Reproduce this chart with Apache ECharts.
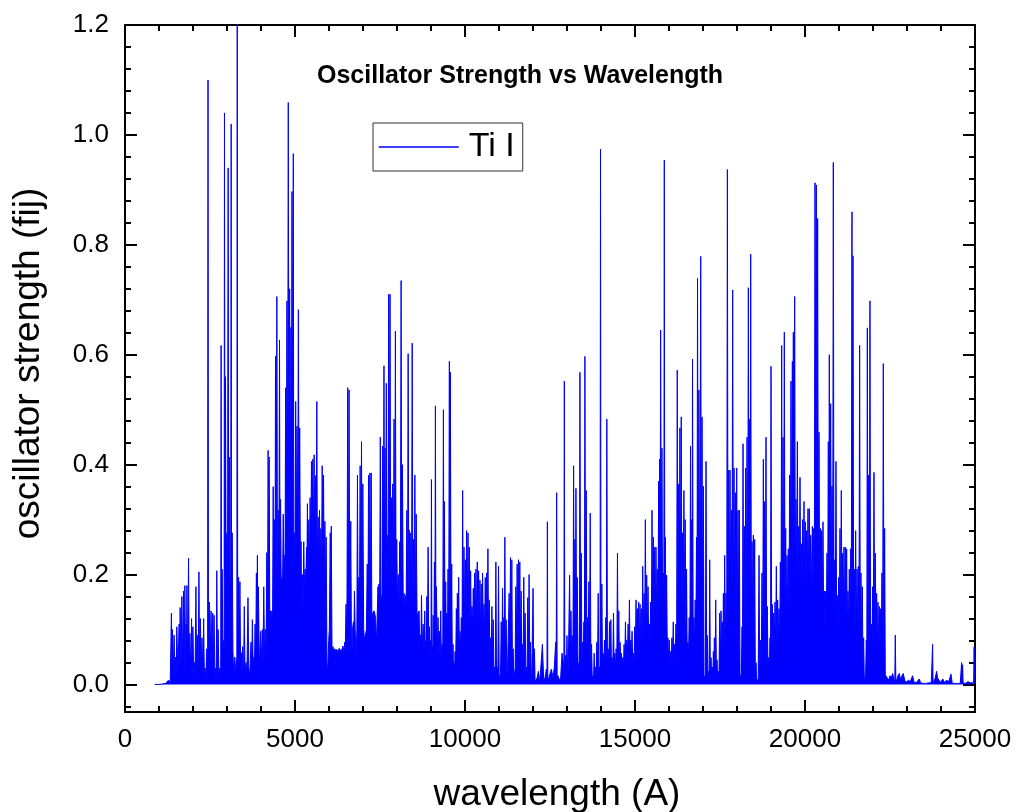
<!DOCTYPE html>
<html>
<head>
<meta charset="utf-8">
<script src="https://cdn.jsdelivr.net/npm/echarts@6/dist/echarts.min.js"></script>
<style>
html,body{margin:0;padding:0;background:#fff;}
#chart{width:1020px;height:812px;}
</style>
</head>
<body>
<div id="chart"></div>
<script>
// ---- data: [wavelength (A), oscillator strength] ----
const uvBand = [[880,0],[1000,0],[1200,0.002],[1280,0.008],[1330,0.003],[1365,0.13],[1380,0.02],[1395,0.10],[1420,0.015],[1444,0.09],[1470,0.01],[1490,0.05],[1505,0.012],[1523,0.105],[1555,0.02],[1592,0.11],[1607,0.03],[1622,0.14],[1645,0.02],[1671,0.16],[1695,0.03],[1721,0.17],[1740,0.02],[1760,0.18],[1785,0.015],[1800,0.11],[1810,0.02],[1820,0.18],[1845,0.03],[1869,0.23],[1890,0.01],[1909,0.093],[1935,0.02],[1958,0.12],[1975,0.015],[1997,0.105],[2020,0.02],[2040,0.04],[2060,0.01],[2086,0.178],[2105,0.02],[2126,0.09],[2150,0.015],[2175,0.205],[2195,0.02],[2215,0.12],[2240,0.03],[2264,0.085],[2290,0.02],[2313,0.12],[2335,0.01],[2360,0.03],[2380,0.01],[2402,0.065],[2430,0.02],[2442,1.10],[2455,0.03],[2481,0.15],[2505,0.04],[2531,0.134],[2555,0.03],[2580,0.13],[2600,0.04],[2620,0.126],[2645,0.015],[2670,0.03],[2685,0.01],[2699,0.207],[2720,0.02],[2738,0.10],[2765,0.01],[2790,0.03],[2815,0.015],[2827,0.617],[2840,0.05],[2857,0.21],[2880,0.06]];

const blueBand = [[2900,0.08],[2915,0.06],[2926,1.04],[2940,0.2],[2955,0.56],[2975,0.15],[2995,0.276],[3015,0.12],[3034,0.94],[3050,0.18],[3074,0.414],[3095,0.14],[3110,0.2],[3123,1.02],[3135,0.12],[3153,0.276],[3175,0.06],[3200,0.015],[3230,0.05],[3260,0.02],[3290,0.05],[3301,1.25],[3315,0.06],[3341,0.195],[3360,0.06],[3380,0.187],[3400,0.04],[3420,0.058],[3440,0.02],[3459,0.069],[3485,0.01],[3509,0.142],[3530,0.02],[3560,0.04],[3585,0.01],[3617,0.158],[3640,0.03],[3665,0.015],[3685,0.04],[3706,0.077],[3725,0.03],[3746,0.118],[3770,0.03],[3790,0.05],[3805,0.02],[3825,0.11],[3845,0.05],[3864,0.203],[3880,0.08],[3894,0.235],[3910,0.06],[3923,0.178],[3950,0.04],[3970,0.06],[3992,0.097],[4015,0.04],[4040,0.1],[4060,0.04],[4081,0.178],[4105,0.05],[4130,0.1],[4150,0.05],[4170,0.24],[4190,0.09],[4210,0.426],[4225,0.1],[4239,0.414],[4260,0.1],[4279,0.134],[4300,0.1],[4318,0.134],[4340,0.11],[4358,0.36],[4378,0.12],[4397,0.30],[4412,0.14],[4427,0.597],[4445,0.15],[4466,0.706],[4485,0.16],[4506,0.317],[4525,0.17],[4545,0.627],[4560,0.17],[4575,0.337],[4595,0.18],[4615,0.195],[4635,0.19],[4654,0.31],[4675,0.2],[4693,0.235],[4708,0.2],[4723,0.54],[4742,0.22],[4763,0.698],[4782,0.3],[4802,1.059],[4822,0.4],[4842,0.72],[4862,0.3],[4881,0.65],[4896,0.35],[4911,0.897],[4930,0.4],[4950,0.966],[4965,0.24],[4980,0.276],[5000,0.22],[5020,0.515],[5040,0.25],[5059,0.47],[5080,0.26],[5099,0.682],[5120,0.24],[5138,0.467],[5160,0.2],[5178,0.26],[5200,0.12],[5220,0.2],[5240,0.13],[5257,0.26],[5275,0.17],[5296,0.21],[5320,0.18],[5340,0.25],[5350,0.2],[5365,0.329],[5385,0.2],[5405,0.30],[5425,0.21],[5444,0.34],[5465,0.24],[5484,0.406],[5503,0.25],[5523,0.41],[5543,0.26],[5563,0.418],[5582,0.2],[5602,0.38],[5622,0.24],[5642,0.515],[5660,0.2],[5681,0.305],[5700,0.2],[5721,0.317],[5740,0.19],[5760,0.284],[5780,0.2],[5800,0.398],[5820,0.22],[5839,0.381],[5860,0.18],[5879,0.297],[5900,0.16],[5918,0.268],[5940,0.04],[5960,0.02],[5990,0.08]];

const visBand = [[6010,0.1],[6037,0.276],[6050,0.12],[6067,0.288],[6090,0.05],[6116,0.069],[6140,0.06],[6170,0.065],[6200,0.06],[6220,0.064],[6245,0.065],[6270,0.06],[6300,0.066],[6330,0.064],[6360,0.06],[6383,0.065],[6410,0.07],[6440,0.06],[6462,0.077],[6480,0.07],[6501,0.146],[6525,0.09],[6551,0.54],[6570,0.12],[6590,0.536],[6610,0.12],[6640,0.297],[6665,0.02],[6690,0.1],[6719,0.114],[6735,0.09],[6748,0.17],[6770,0.1],[6800,0.05],[6820,0.1],[6837,0.381],[6855,0.12],[6877,0.195],[6895,0.13],[6916,0.398],[6935,0.14],[6956,0.442],[6975,0.13],[6995,0.365],[7020,0.1],[7045,0.08],[7074,0.08],[7100,0.1],[7124,0.219],[7145,0.12],[7163,0.381],[7185,0.13],[7203,0.385],[7222,0.13],[7242,0.385],[7260,0.12],[7290,0.13],[7321,0.134],[7345,0.13],[7370,0.12],[7400,0.073],[7420,0.13],[7440,0.178],[7455,0.15],[7469,0.183],[7490,0.15],[7509,0.45],[7525,0.15],[7538,0.162],[7558,0.15],[7578,0.434],[7598,0.16],[7617,0.58],[7632,0.2],[7647,0.43],[7666,0.18],[7686,0.548],[7700,0.17],[7716,0.272],[7735,0.18],[7755,0.71],[7775,0.2],[7795,0.71],[7815,0.17],[7834,0.34],[7855,0.17],[7874,0.365],[7895,0.17],[7913,0.483],[7933,0.18],[7953,0.643],[7972,0.16],[7992,0.264],[8015,0.15],[8040,0.2],[8060,0.15],[8081,0.26],[8100,0.2],[8121,0.735],[8140,0.14],[8160,0.40],[8185,0.13],[8210,0.166],[8230,0.13],[8250,0.162],[8270,0.14],[8289,0.317],[8310,0.14],[8328,0.602],[8348,0.14],[8368,0.281],[8388,0.13],[8407,0.276],[8427,0.14],[8447,0.621],[8466,0.13],[8486,0.264],[8506,0.13],[8526,0.381],[8545,0.13],[8565,0.31],[8590,0.12],[8615,0.13]];

const redBand = [[8651,0.134],[8668,0.06],[8685,0.09],[8702,0.05],[8720,0.162],[8745,0.06],[8769,0.11],[8793,0.06],[8817,0.134],[8835,0.05],[8850,0.08],[8863,0.05],[8876,0.16],[8895,0.07],[8915,0.25],[8935,0.06],[8954,0.105],[8970,0.05],[8985,0.08],[9000,0.05],[9013,0.373],[9027,0.05],[9040,0.07],[9050,0.04],[9062,0.126],[9082,0.06],[9101,0.223],[9115,0.08],[9130,0.507],[9145,0.08],[9159,0.178],[9184,0.06],[9208,0.122],[9228,0.05],[9247,0.097],[9266,0.05],[9286,0.134],[9305,0.04],[9325,0.073],[9345,0.04],[9365,0.50],[9380,0.1],[9394,0.333],[9414,0.08],[9433,0.187],[9448,0.07],[9462,0.13],[9482,0.07],[9501,0.21],[9520,0.08],[9540,0.588],[9555,0.1],[9570,0.568],[9590,0.08],[9609,0.219],[9628,0.03],[9648,0.073],[9662,0.02],[9677,0.04],[9692,0.02],[9707,0.06],[9726,0.04],[9746,0.138],[9760,0.06],[9775,0.166],[9795,0.07],[9814,0.195],[9834,0.06],[9853,0.097],[9873,0.06],[9892,0.122],[9912,0.07],[9931,0.353],[9950,0.1],[9970,0.25],[9990,0.1],[10009,0.227],[10028,0.11],[10048,0.28],[10068,0.12],[10088,0.276],[10108,0.12],[10127,0.25],[10146,0.11],[10166,0.207],[10185,0.1],[10205,0.142],[10225,0.1],[10244,0.175],[10264,0.11],[10283,0.203],[10302,0.1],[10322,0.21],[10342,0.11],[10361,0.223],[10380,0.1],[10400,0.207],[10420,0.1],[10439,0.19],[10458,0.09],[10478,0.183],[10498,0.1],[10517,0.203],[10537,0.09],[10557,0.146],[10576,0.09],[10596,0.195],[10615,0.1],[10635,0.203],[10655,0.09],[10674,0.247],[10693,0.08],[10713,0.154],[10732,0.05],[10752,0.085],[10772,0.05],[10791,0.142],[10810,0.05],[10830,0.118],[10850,0.02],[10869,0.032],[10890,0.02],[10908,0.223],[10928,0.01],[10947,0.032],[10967,0.02],[10986,0.215],[11005,0.01],[11025,0.016],[11045,0.02],[11065,0.114],[11085,0.05],[11104,0.175],[11124,0.06],[11143,0.122],[11158,0.05],[11172,0.268],[11190,0.05],[11211,0.118],[11230,0.02],[11250,0.028],[11275,0.03],[11299,0.166],[11318,0.06],[11338,0.231],[11358,0.07],[11377,0.227],[11396,0.03],[11416,0.065],[11435,0.01],[11455,0.012],[11475,0.03],[11494,0.178],[11514,0.07],[11534,0.219],[11553,0.08],[11573,0.227],[11592,0.08],[11612,0.223],[11632,0.06],[11651,0.17],[11670,0.03],[11690,0.073],[11710,0.04],[11729,0.195],[11748,0.05],[11768,0.13],[11788,0.02],[11807,0.032],[11826,0.02],[11846,0.158],[11865,0.04],[11885,0.2],[11905,0.03],[11924,0.077],[11944,0.01],[11963,0.02],[11983,0.02],[12002,0.175],[12022,0.02],[12042,0.065],[12062,0.005],[12081,0.008],[12120,0.012],[12159,0.024],[12198,0.004],[12237,0.037],[12276,0.073],[12315,0.008],[12354,0.012],[12393,0.028]];

const irBand1 = [[12410,0.005],[12423,0.296],[12436,0.005],[12462,0.008],[12501,0.02],[12540,0.028],[12589,0.012],[12628,0.032],[12667,0.077],[12683,0.01],[12696,0.349],[12710,0.01],[12735,0.016],[12774,0.008],[12813,0.012],[12853,0.057],[12892,0.04],[12908,0.01],[12921,0.552],[12935,0.02],[12960,0.053],[12980,0.02],[12999,0.089],[13020,0.02],[13038,0.032],[13058,0.03],[13077,0.199],[13097,0.04],[13116,0.134],[13136,0.04],[13155,0.089],[13175,0.05],[13194,0.398],[13213,0.08],[13233,0.264],[13248,0.08],[13263,0.357],[13283,0.07],[13302,0.195],[13326,0.02],[13351,0.04],[13366,0.02],[13380,0.568],[13400,0.06],[13419,0.239],[13438,0.04],[13458,0.077],[13478,0.04],[13497,0.114],[13512,0.05],[13527,0.597],[13546,0.08],[13566,0.353],[13585,0.05],[13605,0.122],[13625,0.06],[13644,0.187],[13663,0.05],[13683,0.312],[13703,0.03],[13722,0.073],[13742,0.01],[13761,0.016],[13780,0.01],[13800,0.057],[13820,0.01],[13839,0.032],[13858,0.02],[13878,0.077],[13898,0.03],[13917,0.166],[13936,0.02],[13956,0.032],[13972,0.02],[13986,0.974],[14000,0.03],[14025,0.183],[14045,0.03],[14064,0.057],[14083,0.03],[14103,0.081],[14122,0.04],[14142,0.122],[14157,0.03],[14171,0.483],[14190,0.03],[14210,0.065],[14230,0.03],[14250,0.114],[14270,0.04],[14289,0.118],[14308,0.03],[14328,0.049],[14348,0.03],[14367,0.13],[14386,0.03],[14406,0.057],[14425,0.03],[14445,0.065],[14465,0.03],[14484,0.239],[14503,0.04],[14523,0.134],[14542,0.04],[14562,0.077],[14582,0.03],[14601,0.057],[14620,0.03],[14640,0.049],[14660,0.03],[14679,0.073],[14699,0.04],[14719,0.114],[14738,0.04],[14758,0.081],[14778,0.05],[14797,0.11],[14816,0.05],[14836,0.154],[14855,0.04],[14875,0.081],[14894,0.05],[14914,0.097],[14934,0.03],[14953,0.057],[14972,0.04],[14992,0.105],[15011,0.06],[15031,0.154],[15050,0.07],[15070,0.138],[15090,0.07],[15109,0.15],[15128,0.07],[15148,0.146],[15168,0.07],[15187,0.138],[15207,0.07],[15227,0.215],[15246,0.08],[15266,0.166],[15285,0.08],[15305,0.30],[15324,0.08],[15344,0.199],[15363,0.08],[15383,0.178],[15402,0.07],[15422,0.11],[15441,0.07],[15461,0.15],[15480,0.08],[15500,0.317],[15520,0.12],[15539,0.268],[15558,0.12],[15578,0.25],[15598,0.12],[15617,0.25],[15636,0.12],[15656,0.21],[15676,0.12],[15696,0.37],[15710,0.15],[15725,0.41],[15740,0.2],[15754,0.645],[15774,0.2],[15793,0.43],[15812,0.12],[15832,0.203],[15848,0.1],[15862,0.954],[15876,0.12],[15891,0.268],[15910,0.1],[15930,0.199],[15950,0.06],[15969,0.085],[15988,0.04],[16008,0.081],[16028,0.04],[16047,0.06],[16066,0.04],[16086,0.085],[16105,0.05],[16125,0.114],[16145,0.04],[16164,0.073],[16184,0.05],[16204,0.11],[16224,0.06],[16243,0.572],[16262,0.12],[16282,0.365],[16302,0.12],[16321,0.467],[16340,0.14],[16360,0.487],[16380,0.12],[16399,0.276],[16418,0.12],[16438,0.353],[16458,0.12],[16477,0.30],[16496,0.08],[16516,0.21],[16536,0.05],[16555,0.077],[16574,0.05],[16594,0.122],[16614,0.06],[16633,0.434],[16648,0.1],[16663,0.30],[16678,0.1],[16692,0.592],[16712,0.06],[16731,0.122],[16750,0.07],[16770,0.154],[16790,0.08],[16809,0.268],[16824,0.1],[16839,0.739],[16858,0.12],[16878,0.536],[16905,0.12]];

const irBand2 = [[16933,0.779],[16952,0.1],[16972,0.487],[16991,0.06],[17011,0.361],[17030,0.01],[17050,0.016],[17070,0.01],[17089,0.406],[17109,0.02],[17129,0.089],[17148,0.01],[17168,0.024],[17182,0.01],[17197,0.227],[17216,0.01],[17236,0.049],[17256,0.01],[17276,0.032],[17290,0.01],[17305,0.06],[17320,0.02],[17334,0.085],[17354,0.02],[17374,0.154],[17394,0.02],[17413,0.045],[17432,0.01],[17452,0.024],[17472,0.02],[17491,0.13],[17510,0.04],[17530,0.134],[17550,0.04],[17570,0.114],[17585,0.05],[17599,0.166],[17618,0.05],[17638,0.235],[17658,0.06],[17677,0.166],[17697,0.06],[17717,0.937],[17736,0.1],[17756,0.39],[17775,0.12],[17795,0.39],[17815,0.12],[17834,0.317],[17853,0.12],[17873,0.718],[17893,0.12],[17913,0.394],[17932,0.12],[17952,0.349],[17972,0.1],[17991,0.394],[18010,0.1],[18030,0.317],[18050,0.1],[18069,0.317],[18089,0.01],[18109,0.016],[18128,0.02],[18148,0.105],[18162,0.05],[18177,0.438],[18196,0.08],[18216,0.288],[18236,0.1],[18256,0.394],[18275,0.1],[18295,0.45],[18314,0.12],[18334,0.722],[18353,0.15],[18373,0.483],[18388,0.15],[18403,0.783],[18422,0.1],[18442,0.26],[18462,0.1],[18481,0.272],[18500,0.08],[18520,0.264],[18540,0.01],[18559,0.04],[18579,0.005],[18599,0.008],[18623,0.01],[18648,0.235],[18667,0.02],[18687,0.081],[18711,0.03],[18736,0.203],[18755,0.05],[18775,0.41],[18794,0.07],[18814,0.333],[18833,0.07],[18853,0.45],[18873,0.04],[18893,0.142],[18912,0.02],[18932,0.049],[18952,0.02],[18971,0.085],[18986,0.04],[19000,0.579],[19020,0.06],[19039,0.146],[19059,0.06],[19079,0.13],[19098,0.07],[19118,0.15],[19138,0.07],[19157,0.215],[19176,0.07],[19196,0.154],[19216,0.07],[19235,0.138],[19255,0.08],[19275,0.223],[19294,0.1],[19314,0.617],[19334,0.12],[19353,0.45],[19372,0.12],[19392,0.641],[19412,0.12],[19432,0.284],[19451,0.12],[19471,0.235],[19490,0.12],[19510,0.247],[19530,0.12],[19549,0.381],[19568,0.16],[19588,0.552],[19608,0.18],[19628,0.588],[19642,0.18],[19657,0.641],[19676,0.18],[19696,0.706],[19716,0.18],[19735,0.337],[19755,0.18],[19775,0.442],[19794,0.18],[19814,0.288],[19834,0.18],[19853,0.377],[19872,0.18],[19892,0.256],[19912,0.18],[19931,0.30],[19951,0.18],[19971,0.333],[19990,0.18],[20010,0.296],[20030,0.18],[20049,0.28],[20068,0.18],[20088,0.32],[20108,0.18],[20127,0.32],[20147,0.18],[20167,0.272],[20190,0.18],[20216,0.288],[20235,0.18],[20255,0.284],[20275,0.2],[20294,0.913],[20314,0.5],[20333,0.909],[20352,0.4],[20372,0.848],[20392,0.2],[20412,0.459],[20431,0.16],[20451,0.284],[20470,0.15],[20490,0.28],[20510,0.15],[20529,0.296],[20548,0.12],[20568,0.17],[20588,0.1],[20608,0.17],[20628,0.12],[20647,0.239],[20666,0.14],[20686,0.442],[20700,0.15],[20715,0.60],[20735,0.15],[20755,0.511],[20774,0.15],[20794,0.361],[20814,0.15],[20833,0.95],[20852,0.12],[20872,0.227],[20892,0.12],[20911,0.406],[20931,0.1],[20951,0.162],[20970,0.1],[20990,0.195],[21010,0.12],[21029,0.284],[21048,0.12],[21068,0.353],[21088,0.12],[21107,0.239],[21127,0.12],[21147,0.25],[21166,0.12],[21186,0.25],[21206,0.12],[21225,0.247],[21244,0.1],[21264,0.17],[21284,0.1],[21303,0.21],[21323,0.12],[21343,0.247],[21362,0.12],[21382,0.86],[21396,0.15],[21411,0.78],[21430,0.1],[21450,0.21],[21470,0.1],[21490,0.28],[21510,0.1],[21529,0.21],[21548,0.1],[21568,0.215],[21588,0.1],[21607,0.617],[21626,0.08],[21646,0.203],[21666,0.06],[21686,0.178],[21705,0.03],[21725,0.085],[21745,0.005],[21764,0.008],[21784,0.02],[21803,0.081],[21818,0.03],[21833,0.649],[21852,0.08],[21872,0.381],[21892,0.08],[21911,0.698],[21930,0.05],[21950,0.11],[21970,0.05],[21989,0.178],[22009,0.06],[22029,0.386],[22048,0.06],[22068,0.239],[22088,0.06],[22107,0.166],[22126,0.06],[22146,0.15],[22166,0.06],[22185,0.142],[22205,0.06],[22225,0.138],[22244,0.06],[22264,0.203],[22284,0.05],[22303,0.584],[22322,0.05],[22342,0.284],[22362,0.01]];

const tailBand = [[22381,0.016],[22420,0.012],[22460,0.008],[22499,0.016],[22538,0.012],[22577,0.02],[22617,0.02],[22640,0.003],[22656,0.09],[22672,0.003],[22695,0.008],[22734,0.016],[22774,0.02],[22813,0.008],[22852,0.016],[22891,0.02],[22930,0.008],[22969,0.004],[23009,0.004],[23048,0.008],[23087,0.004],[23126,0.004],[23165,0.016],[23205,0.004],[23244,0.002],[23283,0.004],[23322,0.004],[23361,0.01],[23401,0.003],[23440,0.002],[23479,0.002],[23518,0.003],[23557,0.002],[23596,0.004],[23636,0.003],[23675,0.004],[23714,0.003],[23740,0.003],[23753,0.073],[23766,0.003],[23792,0.004],[23831,0.012],[23871,0.024],[23900,0.012],[23939,0.008],[23979,0.004],[24018,0.003],[24057,0.01],[24096,0.004],[24136,0.005],[24175,0.008],[24214,0.004],[24253,0.01],[24292,0.019],[24332,0.002],[24371,0.004],[24410,0.002],[24449,0.003],[24489,0.002],[24528,0.004],[24567,0.002],[24595,0.003],[24606,0.04],[24620,0.003],[24636,0.036],[24650,0.003],[24675,0.004],[24714,0.002],[24753,0.004],[24792,0.005],[24832,0.003],[24871,0.003],[24910,0.004],[24960,0.003],[24975,0.068],[24990,0.003]];

const yMajorTicks = [0, 0.2, 0.4, 0.6, 0.8, 1.0, 1.2];
const yMinorTicks = [-0.04, 0.04, 0.08, 0.12, 0.16, 0.24, 0.28, 0.32, 0.36, 0.44, 0.48, 0.52, 0.56, 0.64, 0.68, 0.72, 0.76, 0.84, 0.88, 0.92, 0.96, 1.04, 1.08, 1.12, 1.16];

const spectrum = [].concat(uvBand, blueBand, visBand, redBand, irBand1, irBand2, tailBand);

const FONT = "'Liberation Sans', Arial, sans-serif";
const BLUE = '#0000ff';
const gridRect = { left: 125, right: 45, top: 25, bottom: 100, outerBoundsMode: 'none', containLabel: false };

const chart = echarts.init(document.getElementById('chart'), null, { renderer: 'canvas' });

function xAxisCfg(gridIndex, pos, showLabel) {
  return {
    type: 'value', gridIndex: gridIndex, position: pos,
    min: 0, max: 25000, interval: 5000,
    axisLine: { show: true, onZero: false, lineStyle: { color: '#000', width: 2 } },
    axisTick: { show: true, inside: true, length: 12, lineStyle: { color: '#000', width: 2 } },
    minorTick: { show: true, splitNumber: 5, length: 6, lineStyle: { color: '#000', width: 2 } },
    axisLabel: { show: showLabel, fontSize: 26, color: '#000', fontFamily: FONT, margin: 15,
                 formatter: function (v) { return String(v); } },
    splitLine: { show: false }
  };
}
function yAxisCfg(gridIndex, pos, ticks, len, showLine, showLabel) {
  return {
    type: 'value', gridIndex: gridIndex, position: pos,
    min: -0.05, max: 1.2,
    axisLine: { show: showLine, onZero: false, lineStyle: { color: '#000', width: 2 } },
    axisTick: { show: true, inside: true, length: len, customValues: ticks, lineStyle: { color: '#000', width: 2 } },
    axisLabel: { show: showLabel, customValues: ticks, fontSize: 26, color: '#000', fontFamily: FONT, margin: 16,
                 formatter: function (v) { return v.toFixed(1); } },
    splitLine: { show: false }
  };
}

const yMain = yAxisCfg(0, 'left', yMajorTicks, 12, true, true);
yMain.name = 'oscillator strength (fij)';
yMain.nameLocation = 'middle';
yMain.nameGap = 78;
yMain.nameTextStyle = { fontSize: 37, color: '#000', fontFamily: FONT, padding: [0, 0, 0, 10] };

const xMain = xAxisCfg(0, 'bottom', true);
xMain.name = 'wavelength (A)';
xMain.nameLocation = 'middle';
xMain.nameGap = 64;
xMain.nameTextStyle = { fontSize: 37, color: '#000', fontFamily: FONT, padding: [0, 0, 0, 14] };

const xTop = xAxisCfg(0, 'top', false);
const xHidden = { type: 'value', gridIndex: 1, min: 0, max: 25000, show: false };

const option = {
  animation: false,
  backgroundColor: '#fff',
  title: {
    text: 'Oscillator Strength vs Wavelength',
    left: 317, top: 64, padding: 0,
    textStyle: { fontSize: 25, fontWeight: 'bold', color: '#000', fontFamily: FONT }
  },
  legend: {
    left: 373, top: 123,
    padding: [7, 8, 7, 5],
    itemWidth: 80, itemHeight: 14,
    borderColor: '#333', borderWidth: 1, borderRadius: 0,
    itemStyle: { opacity: 0 },
    lineStyle: { color: BLUE, width: 1.5 },
    textStyle: { fontSize: 34, color: '#000', fontFamily: FONT, padding: [0, 0, 0, 5] },
    data: ['Ti I']
  },
  grid: [
    Object.assign({}, gridRect),
    Object.assign({}, gridRect)
  ],
  xAxis: [xMain, xTop, xHidden],
  yAxis: [
    yMain,
    yAxisCfg(0, 'right', yMajorTicks, 12, true, false),
    yAxisCfg(1, 'left', yMinorTicks, 6, false, false),
    yAxisCfg(1, 'right', yMinorTicks, 6, false, false)
  ],
  series: [{
    type: 'line', name: 'Ti I',
    xAxisIndex: 0, yAxisIndex: 0,
    data: spectrum,
    symbol: 'none', showSymbol: false,
    clip: true,
    lineStyle: { color: BLUE, width: 1 },
    itemStyle: { color: BLUE },
    areaStyle: { color: BLUE, opacity: 1 },
    z: 2
  }]
};
chart.setOption(option);
</script>
</body>
</html>
